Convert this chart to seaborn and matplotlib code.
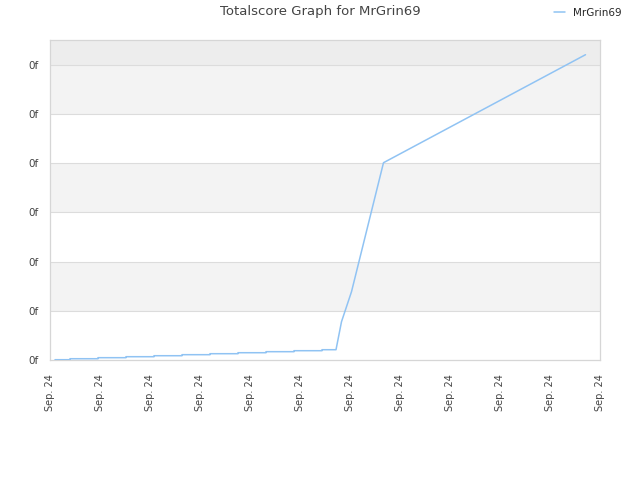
import matplotlib
matplotlib.use("Agg")
import matplotlib.pyplot as plt
import seaborn as sns
import pandas as pd

# Data (x in tick-index units, y in y-tick units)
x_vals = [0.10, 0.40, 0.40, 0.96, 0.96, 1.52, 1.52, 2.08, 2.08, 2.64, 2.64,
          3.20, 3.20, 3.76, 3.76, 4.32, 4.32, 4.88, 4.88, 5.44, 5.44, 5.72,
          5.83, 6.03, 6.67, 10.71]
y_vals = [0.006, 0.006, 0.026, 0.026, 0.047, 0.047, 0.067, 0.067, 0.087, 0.087, 0.108,
          0.108, 0.128, 0.128, 0.148, 0.148, 0.169, 0.169, 0.189, 0.189, 0.209, 0.209,
          0.778, 1.388, 4.01, 6.205]
series_name = "MrGrin69"
x_tick_labels = ["Sep. 24"] * 12
y_tick_labels = ["0f"] * 7

df = pd.DataFrame({"x": x_vals, "y": y_vals, "player": series_name})

sns.set_style("white")
plt.rcParams['font.family'] = ['DejaVu Sans']

fig = plt.figure(figsize=(6.4, 4.8), dpi=100)
ax = fig.add_axes([50/640, 120/480, 550/640, 320/480])

ymax = 6.504
# background bands
for lo, hi in [(1, 2), (3, 4), (5, 6)]:
    ax.axhspan(lo, hi, color="#f3f3f3", zorder=0, lw=0)
ax.axhspan(6, ymax, color="#ededed", zorder=0, lw=0)
for yv in range(1, 7):
    ax.axhline(yv, color="#dcdcdc", lw=0.8, zorder=1)

sns.lineplot(data=df, x="x", y="y", hue="player", palette=["#90c3f3"],
             estimator=None, sort=False, lw=1.1, ax=ax, legend=True, zorder=3)

ax.set_xlim(0, 11)
ax.set_ylim(0, ymax)
ax.set_xticks(range(12))
ax.set_xticklabels(x_tick_labels, rotation=90, fontsize=7, color="#444444")
ax.set_yticks(range(7))
ax.set_yticklabels(y_tick_labels, fontsize=7.5, color="#444444")
ax.tick_params(axis="x", length=0, pad=10)
ax.tick_params(axis="y", length=0, pad=8)
ax.set_xlabel("")
ax.set_ylabel("")
for s in ax.spines.values():
    s.set_color("#d6d6d6")
    s.set_linewidth(0.9)

ax.get_legend().remove()
handles, labels = ax.get_legend_handles_labels()
fig.legend(handles, labels, loc="center left", bbox_to_anchor=(545/640, 1 - 13/480),
           frameon=False, fontsize=7.5, handlelength=1.0, handletextpad=0.8)

fig.text(320/640, 1 - 12/480, "Totalscore Graph for MrGrin69", ha="center", va="center",
         fontsize=9.5, color="#444444")

fig.savefig("out.png", dpi=100)
